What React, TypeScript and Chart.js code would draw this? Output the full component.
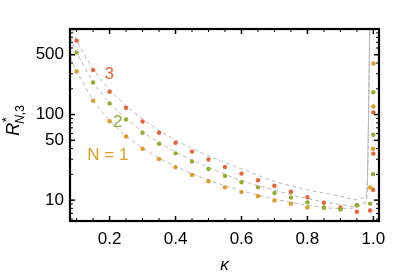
import React, { useEffect, useRef } from "react";
import { Chart, registerables } from "chart.js";

Chart.register(...registerables);

// ---- data ----
const kappa = [0.1, 0.15, 0.2, 0.25, 0.3, 0.35, 0.4, 0.45, 0.5, 0.55, 0.6, 0.65, 0.7, 0.75, 0.8, 0.85, 0.9, 0.95, 0.99, 0.999, 0.9999, 0.99999];
const rN3 = [731, 331, 185, 120, 83, 61.3, 46.9, 36.9, 29.8, 24.4, 20.4, 17.1, 14.7, 12.5, 10.8, 9.3, 8.2, 7.3, 7.55, 13.2, 34.9, 106];
const rN2 = [530, 237, 135, 87.5, 61.3, 45.6, 35.2, 28.3, 23.1, 19.2, 16.2, 14.1, 12.1, 10.7, 9.4, 8.2, 7.8, 8.7, 9.1, 20.1, 58, 182];
const rN1 = [319, 145, 83.6, 55.5, 39.9, 30.2, 24.2, 19.7, 16.6, 14.1, 12.4, 11.1, 9.9, 9.06, 8.2, 8.15, 7.8, 8.7, 14.1, 39.9, 124, 395];

// dashed reference curves
const curveKappa = [0.08, 0.1, 0.15, 0.2, 0.3, 0.4, 0.5, 0.6, 0.7, 0.8, 0.9, 0.95, 0.97, 0.98, 0.99];
const curveN3 = [1175, 745, 343, 195, 88.7, 50.5, 32.9, 23.2, 16.6, 13.2, 11.1, 10.1, 10.6, 13, 2000];
const curveN2 = [807, 541, 242, 138, 63.4, 36.6, 24.2, 16.9, 13.1, 10.4, 8.87, 8.4, 8.9, 10.5, 2000];
const curveN1 = [472, 325, 149, 85, 40.7, 24.8, 17.1, 12.9, 10.3, 8.75, 7.96, 8.3, 9.4, 11.5, 2000];

// ticks
const xMajorTicks = [0.2, 0.4, 0.6, 0.8, 1.0];
const xMinorTicks = [0.1, 0.15, 0.25, 0.3, 0.35, 0.45, 0.5, 0.55, 0.65, 0.7, 0.75, 0.85, 0.9, 0.95];
const yMajorTicks = [10, 50, 100, 500];
const yMinorTicks = [6, 7, 8, 9, 20, 30, 40, 60, 70, 80, 90, 200, 300, 400, 600, 700, 800, 900];

// in-plot labels: [text, kappa, R, colour]
const seriesLabels: [string, number, number, string][] = [
  ["3", 0.199, 297, "#EB6235"],
  ["2", 0.225, 81.3, "#8FB032"],
  ["N = 1", 0.195, 33.3, "#E19C24"],
];

const RED = "#EB6235";
const GREEN = "#8FB032";
const ORANGE = "#E19C24";
const FONT = "'Liberation Sans', Arial, sans-serif";

const pts = (xs: number[], ys: number[]) => xs.map((x, i) => ({ x, y: ys[i] }));

const framePlugin = {
  id: "frameTicks",
  afterDraw(chart: any) {
    const { ctx, chartArea: a, scales } = chart;
    const xs = scales.x;
    const ys = scales.y;
    ctx.save();
    ctx.strokeStyle = "#000";
    const seg = (x1: number, y1: number, x2: number, y2: number) => {
      ctx.beginPath();
      ctx.moveTo(x1, y1);
      ctx.lineTo(x2, y2);
      ctx.stroke();
    };
    ctx.lineWidth = 1.5;
    xMajorTicks.forEach((v) => {
      const p = xs.getPixelForValue(v);
      seg(p, a.bottom, p, a.bottom - 5);
      seg(p, a.top, p, a.top + 5);
    });
    ctx.lineWidth = 1;
    xMinorTicks.forEach((v) => {
      const p = xs.getPixelForValue(v);
      seg(p, a.bottom, p, a.bottom - 3);
      seg(p, a.top, p, a.top + 3);
    });
    ctx.lineWidth = 1.5;
    yMajorTicks.forEach((v) => {
      const p = ys.getPixelForValue(v);
      seg(a.left, p, a.left + 5, p);
      seg(a.right, p, a.right - 5, p);
    });
    ctx.lineWidth = 1;
    yMinorTicks.forEach((v) => {
      const p = ys.getPixelForValue(v);
      seg(a.left, p, a.left + 3, p);
      seg(a.right, p, a.right - 3, p);
    });
    ctx.lineWidth = 2.2;
    ctx.strokeRect(a.left, a.top, a.right - a.left, a.bottom - a.top);

    ctx.textAlign = "center";
    ctx.textBaseline = "middle";
    ctx.font = `17px ${FONT}`;
    seriesLabels.forEach(([t, kx, ry, c]) => {
      ctx.fillStyle = c;
      ctx.fillText(t, xs.getPixelForValue(kx), ys.getPixelForValue(ry));
    });

    ctx.fillStyle = "#000";
    ctx.font = `italic 17px ${FONT}`;
    ctx.textAlign = "center";
    ctx.textBaseline = "alphabetic";
    ctx.fillText("κ", (a.left + a.right) / 2, 270);

    ctx.save();
    ctx.translate(19, 120);
    ctx.rotate(-Math.PI / 2);
    ctx.textAlign = "left";
    ctx.textBaseline = "alphabetic";
    ctx.font = `italic 18px ${FONT}`;
    const wR = ctx.measureText("R").width;
    ctx.font = `italic 12px ${FONT}`;
    const wN = ctx.measureText("N").width;
    ctx.font = `12px ${FONT}`;
    const w3 = ctx.measureText(",3").width;
    const total = wR + wN + w3;
    const x0 = -total / 2;
    ctx.font = `italic 18px ${FONT}`;
    ctx.fillText("R", x0, 0);
    ctx.font = `13px ${FONT}`;
    ctx.fillText("*", x0 + wR + 0.5, -8);
    ctx.font = `italic 12px ${FONT}`;
    ctx.fillText("N", x0 + wR - 1, 5);
    ctx.font = `12px ${FONT}`;
    ctx.fillText(",3", x0 + wR - 1 + wN, 5);
    ctx.restore();

    ctx.restore();
  },
};

export default function App() {
  const ref = useRef<HTMLCanvasElement | null>(null);
  useEffect(() => {
    if (!ref.current) return;
    const marker = (label: string, data: number[], color: string, order: number) => ({
      label,
      data: pts(kappa, data),
      showLine: false,
      pointRadius: 2.2,
      pointHoverRadius: 2.2,
      pointBorderWidth: 0,
      pointBackgroundColor: color,
      borderColor: color,
      backgroundColor: color,
      order,
    });
    const curve = (label: string, data: number[]) => ({
      label,
      data: pts(curveKappa, data),
      showLine: true,
      pointRadius: 0,
      borderColor: "#b9b9b9",
      borderWidth: 1,
      borderDash: [4, 3],
      cubicInterpolationMode: "monotone" as const,
      order: 10,
    });
    const chart = new Chart(ref.current, {
      type: "scatter",
      data: {
        datasets: [
          marker("N = 2", rN2, GREEN, 0),
          marker("N = 1", rN1, ORANGE, 1),
          marker("N = 3", rN3, RED, 2),
          curve("c3", curveN3),
          curve("c2", curveN2),
          curve("c1", curveN1),
        ] as any,
      },
      options: {
        animation: false,
        responsive: false,
        events: [],
        layout: { padding: { left: 0, right: 36, top: 29, bottom: 0 } },
        plugins: { legend: { display: false }, tooltip: { enabled: false } },
        scales: {
          x: {
            type: "linear",
            min: 0.08,
            max: 1.017,
            grid: { display: false, drawTicks: false },
            border: { display: false },
            afterBuildTicks: (s: any) => {
              s.ticks = xMajorTicks.map((v) => ({ value: v }));
            },
            afterFit: (s: any) => {
              s.height = 59;
            },
            ticks: {
              padding: 8,
              color: "#000",
              font: { family: FONT, size: 17 },
              maxRotation: 0,
              callback: (v: any) => Number(v).toFixed(1),
            },
          },
          y: {
            type: "logarithmic",
            min: 5.7,
            max: 1000,
            grid: { display: false, drawTicks: false },
            border: { display: false },
            afterBuildTicks: (s: any) => {
              s.ticks = yMajorTicks.map((v) => ({ value: v }));
            },
            afterFit: (s: any) => {
              s.width = 70;
            },
            ticks: {
              padding: 6,
              color: "#000",
              font: { family: FONT, size: 17 },
              callback: (v: any) => String(v),
            },
          },
        },
      },
      plugins: [framePlugin],
    });
    return () => chart.destroy();
  }, []);
  return (
    <div style={{ position: "absolute", left: 0, top: 0, width: 415, height: 280, background: "#fff" }}>
      <canvas ref={ref} width={415} height={280} style={{ display: "block" }} />
    </div>
  );
}
